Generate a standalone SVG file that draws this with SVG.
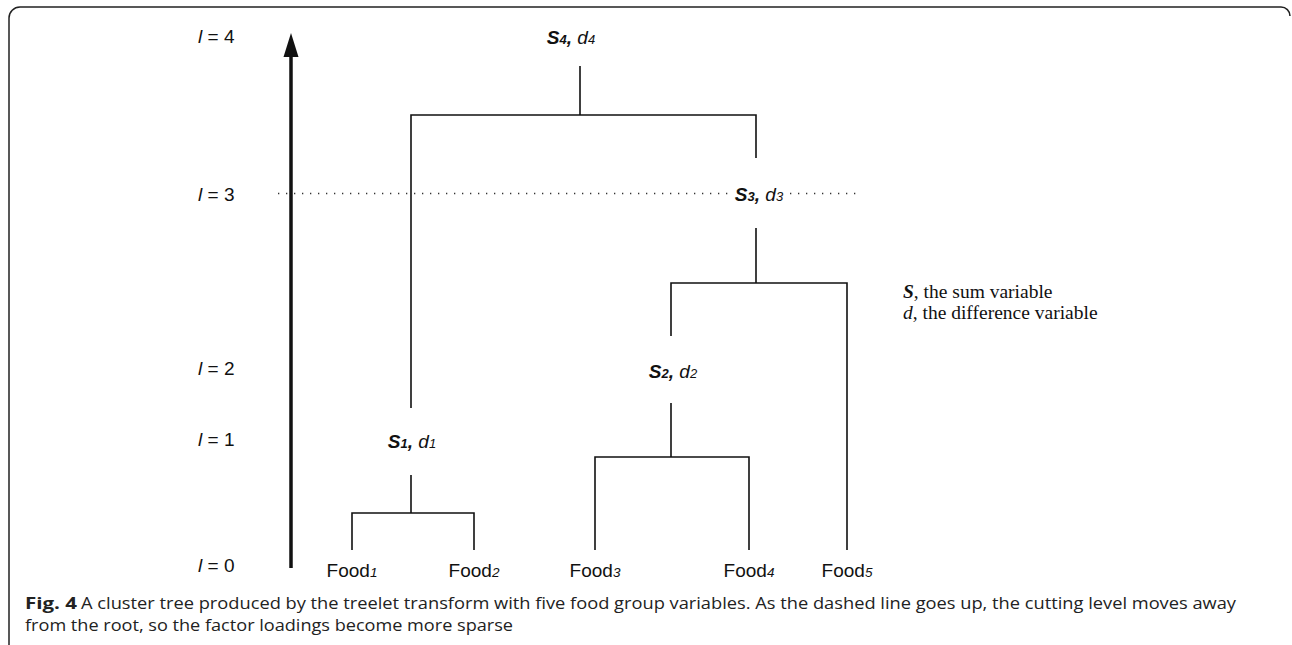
<svg xmlns="http://www.w3.org/2000/svg" width="1292" height="645" viewBox="0 0 1292 645">
<defs>
<style>
.lvl{font-family:"Liberation Sans",Arial,sans-serif;font-size:19px;fill:#111}
.node{font-family:"Liberation Sans",Arial,sans-serif;font-size:19px;fill:#111}
.food{font-family:"Liberation Sans",Arial,sans-serif;font-size:19px;fill:#111}
.leg{font-family:"Liberation Serif","Times New Roman",serif;font-size:19.5px;fill:#111}
.cap{font-family:"Open Sans","Noto Sans",sans-serif;font-size:16px;fill:#222}
.edge{stroke:#111;stroke-width:1.6;fill:none}
</style>
</defs>
<rect width="1292" height="645" fill="#fff"/>
<path d="M9,645 L9,18 A11,11 0 0 1 20,7 L1281,7 A9,9 0 0 1 1290,16" fill="none" stroke="#222" stroke-width="1.5"/>

<g id="axis">
<line x1="291" y1="568" x2="291" y2="54" stroke="#111" stroke-width="3.5"/>
<path d="M283.5,57 L291,33 L298.5,57 Z" fill="#111"/>
<text class="lvl" x="198" y="43"><tspan font-style="italic">l</tspan> = 4</text>
<text class="lvl" x="198" y="201"><tspan font-style="italic">l</tspan> = 3</text>
<text class="lvl" x="198" y="375"><tspan font-style="italic">l</tspan> = 2</text>
<text class="lvl" x="198" y="446"><tspan font-style="italic">l</tspan> = 1</text>
<text class="lvl" x="198" y="572"><tspan font-style="italic">l</tspan> = 0</text>
</g>

<g id="cutline">
<line x1="278" y1="193.5" x2="728" y2="193.5" stroke="#333" stroke-width="1.3" stroke-dasharray="1.3 6.7"/>
<line x1="790" y1="193.5" x2="860" y2="193.5" stroke="#333" stroke-width="1.3" stroke-dasharray="1.3 6.7"/>
</g>

<g id="connectors">
<path class="edge" d="M580,66 V115 M411,408 V115 H756 V158"/>
<path class="edge" d="M756,228 V283 M671,336 V283 H847 V550"/>
<path class="edge" d="M671,403 V457 M595,550 V457 H749 V550"/>
<path class="edge" d="M411,475 V513 M352,550 V513 H474 V550"/>
</g>

<g id="S4"><text class="node" x="571" y="44" text-anchor="middle"><tspan font-weight="bold" font-style="italic">S<tspan font-size="13">4</tspan>,</tspan><tspan font-style="italic"> d<tspan font-size="13">4</tspan></tspan></text></g>
<g id="S3"><text class="node" x="759" y="201" text-anchor="middle"><tspan font-weight="bold" font-style="italic">S<tspan font-size="13">3</tspan>,</tspan><tspan font-style="italic"> d<tspan font-size="13">3</tspan></tspan></text></g>
<g id="S2"><text class="node" x="673" y="378" text-anchor="middle"><tspan font-weight="bold" font-style="italic">S<tspan font-size="13">2</tspan>,</tspan><tspan font-style="italic"> d<tspan font-size="13">2</tspan></tspan></text></g>
<g id="S1"><text class="node" x="412" y="448" text-anchor="middle"><tspan font-weight="bold" font-style="italic">S<tspan font-size="13">1</tspan>,</tspan><tspan font-style="italic"> d<tspan font-size="13">1</tspan></tspan></text></g>

<g id="Food1"><text class="food" x="352" y="577" text-anchor="middle">Food<tspan font-size="13.5" font-style="italic">1</tspan></text></g>
<g id="Food2"><text class="food" x="474" y="577" text-anchor="middle">Food<tspan font-size="13.5" font-style="italic">2</tspan></text></g>
<g id="Food3"><text class="food" x="595" y="577" text-anchor="middle">Food<tspan font-size="13.5" font-style="italic">3</tspan></text></g>
<g id="Food4"><text class="food" x="749" y="577" text-anchor="middle">Food<tspan font-size="13.5" font-style="italic">4</tspan></text></g>
<g id="Food5"><text class="food" x="847" y="577" text-anchor="middle">Food<tspan font-size="13.5" font-style="italic">5</tspan></text></g>

<g id="legend">
<text class="leg" x="903" y="298"><tspan font-weight="bold" font-style="italic">S</tspan>, the sum variable</text>
<text class="leg" x="903" y="319"><tspan font-style="italic">d</tspan>, the difference variable</text>
</g>

<g id="caption">
<text class="cap" x="25" y="609" font-weight="bold" textLength="52" lengthAdjust="spacingAndGlyphs">Fig. 4</text>
<text class="cap" x="81" y="609" textLength="1155" lengthAdjust="spacingAndGlyphs">A cluster tree produced by the treelet transform with five food group variables. As the dashed line goes up, the cutting level moves away</text>
<text class="cap" x="25" y="631" textLength="488" lengthAdjust="spacingAndGlyphs">from the root, so the factor loadings become more sparse</text>
</g>
</svg>
